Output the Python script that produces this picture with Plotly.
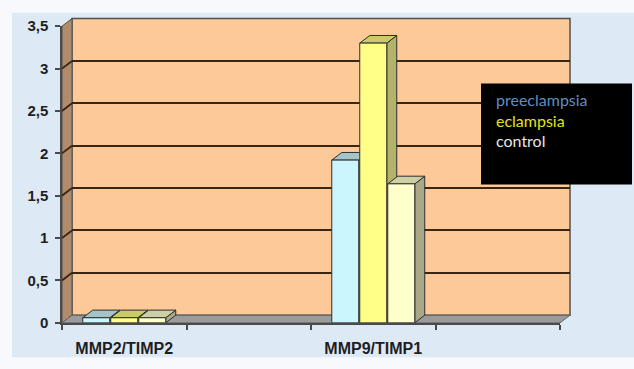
import plotly.graph_objects as go

# ---------------- data ----------------
categories = ["MMP2/TIMP2", "MMP9/TIMP1"]
series_names = ["preeclampsia", "eclampsia", "control"]
preeclampsia = [0.06, 1.92]
eclampsia = [0.06, 3.30]
control = [0.06, 1.64]
y_tick_values = [0, 0.5, 1, 1.5, 2, 2.5, 3, 3.5]
y_tick_labels = ["0", "0,5", "1", "1,5", "2", "2,5", "3", "3,5"]

# ---------------- styling / geometry ----------------
values = [preeclampsia, eclampsia, control]
cat_slots = [0, 2]                 # 4 category slots, 2nd and 4th are empty
slot_edges = [-0.5, 0.5, 1.5, 2.5, 3.5]
W, H = 634, 369
FX0, FX1, FY0, FY1 = 62, 560, 329, 18     # front plane in pixels
DX_PX, DY_PX = 10, 8                      # 3D depth in pixels
XR = [-0.5, 3.5]
YR = [0, 3.5]
ppx = (FX1 - FX0) / (XR[1] - XR[0])
ppy = (FY0 - FY1) / (YR[1] - YR[0])
dx = DX_PX / ppx
dy = DY_PX / ppy
slot_w = 28 / ppx
bar_w = 27 / ppx

front_cols = ["#ccf6fd", "#ffff88", "#ffffcc"]
top_cols = ["#a4c4c9", "#cbcb6c", "#cfcfa6"]
side_cols = ["#8eaeb3", "#b3b36a", "#a9a98a"]
legend_cols = ["#5d8fc2", "#e2e21e", "#e6e6e6"]
edge = "#2e2e2e"
slide_bg = "#dde9f5"
wall_col = "#fdc998"
grid_col = "#3a2412"


def px(x):
    return x / W


def py(y):
    return 1 - y / H


fig = go.Figure()
# dummy trace on the back-wall subplot
fig.add_trace(go.Scatter(x=[None], y=[None], xaxis="x", yaxis="y",
                         showlegend=False, hoverinfo="skip"))

# diagonal grid lines on the left side wall
for v in y_tick_values[1:-1]:
    fig.add_trace(go.Scatter(x=[XR[0], XR[0] + dx], y=[v, v + dy],
                             xaxis="x2", yaxis="y2", mode="lines",
                             line=dict(color=grid_col, width=1.8),
                             showlegend=False, hoverinfo="skip"))

# 3D bars (side, top, front) per series
for i, (name, vals) in enumerate(zip(series_names, values)):
    for c, v in zip(cat_slots, vals):
        xc = c + (i - 1) * slot_w
        xl, xr = xc - bar_w / 2, xc + bar_w / 2
        # side face
        fig.add_trace(go.Scatter(
            x=[xr, xr + dx, xr + dx, xr, xr], y=[0, dy, v + dy, v, 0],
            xaxis="x2", yaxis="y2", mode="lines", fill="toself",
            fillcolor=side_cols[i], line=dict(color=edge, width=1),
            showlegend=False, hoverinfo="skip"))
        # top face
        fig.add_trace(go.Scatter(
            x=[xl, xl + dx, xr + dx, xr, xl], y=[v, v + dy, v + dy, v, v],
            xaxis="x2", yaxis="y2", mode="lines", fill="toself",
            fillcolor=top_cols[i], line=dict(color=edge, width=1),
            showlegend=False, hoverinfo="skip"))
        # front face
        fig.add_trace(go.Scatter(
            x=[xl, xl, xr, xr, xl], y=[0, v, v, 0, 0],
            xaxis="x2", yaxis="y2", mode="lines", fill="toself",
            fillcolor=front_cols[i], line=dict(color=edge, width=1),
            name=name, showlegend=False,
            hovertemplate=name + ": %{y}<extra></extra>"))

shapes = [
    # slide background
    dict(type="rect", xref="paper", yref="paper",
         x0=px(12), x1=1, y0=py(365), y1=py(4),
         fillcolor=slide_bg, line=dict(width=0), layer="below"),
    # back wall
    dict(type="rect", xref="x domain", yref="y domain", x0=0, x1=1, y0=0, y1=1,
         fillcolor=wall_col, line=dict(color="#505050", width=1.5), layer="below"),
    # left side wall
    dict(type="path", xref="paper", yref="paper",
         path=f"M {px(FX0)},{py(FY0)} L {px(FX0)},{py(FY1)} L {px(FX0+DX_PX)},{py(FY1-DY_PX)} "
              f"L {px(FX0+DX_PX)},{py(FY0-DY_PX)} Z",
         fillcolor="#b18c6c", line=dict(color="#505050", width=1), layer="below"),
    # floor
    dict(type="path", xref="paper", yref="paper",
         path=f"M {px(FX0)},{py(FY0)} L {px(FX1)},{py(FY0)} L {px(FX1+DX_PX)},{py(FY0-DY_PX)} "
              f"L {px(FX0+DX_PX)},{py(FY0-DY_PX)} Z",
         fillcolor="#9b9b9b", line=dict(color="#606060", width=1), layer="below"),
    # legend box
    dict(type="rect", xref="paper", yref="paper",
         x0=px(481), x1=px(632), y0=py(184), y1=py(78),
         fillcolor="#000000", line=dict(width=0), layer="above"),
]

annotations = []
for i, name in enumerate(series_names):
    annotations.append(dict(
        x=px(494), y=py(95 + 21.5 * i), xref="paper", yref="paper",
        xanchor="left", yanchor="middle", text=name, showarrow=False,
        font=dict(family="Lato", size=16, color=legend_cols[i])))

fig.update_layout(
    width=W, height=H, autosize=False,
    margin=dict(l=0, r=0, t=0, b=0),
    paper_bgcolor="#f7f9fc",
    plot_bgcolor="rgba(0,0,0,0)",
    showlegend=False,
    shapes=shapes,
    annotations=annotations,
    # back wall subplot
    xaxis=dict(domain=[px(FX0 + DX_PX), px(FX1 + DX_PX)], range=XR,
               showgrid=False, zeroline=False, showticklabels=False,
               ticks="", showline=False, fixedrange=True),
    yaxis=dict(domain=[py(FY0 - DY_PX), py(FY1 - DY_PX)], range=YR,
               tickvals=y_tick_values, showgrid=True, gridcolor=grid_col,
               gridwidth=1.8, zeroline=False, showticklabels=False,
               ticks="", showline=False, fixedrange=True),
    # front plane subplot
    xaxis2=dict(domain=[px(FX0), px(FX1)], range=XR, anchor="y2",
                tickvals=cat_slots, ticktext=categories, ticks="",
                showgrid=False, zeroline=False, showline=True,
                linecolor="#4a4a4a", linewidth=1.5,
                minor=dict(tickvals=slot_edges, ticks="outside", ticklen=5,
                           tickcolor="#4a4a4a", tickwidth=1.5, showgrid=False),
                ticklabelstandoff=10,
                tickfont=dict(family="Liberation Sans", size=16,
                              color="#1e1e1e", weight="bold"),
                fixedrange=True),
    yaxis2=dict(domain=[py(FY0), py(FY1)], range=YR, anchor="x2",
                tickvals=y_tick_values, ticktext=y_tick_labels,
                ticks="outside", ticklen=5, tickcolor="#4a4a4a", tickwidth=1.5,
                showgrid=False, zeroline=False, showline=True,
                linecolor="#4a4a4a", linewidth=1.5,
                ticklabelstandoff=4,
                tickfont=dict(family="Liberation Sans", size=15,
                              color="#1e1e1e", weight="bold"),
                fixedrange=True),
)

fig.write_html("out.html")
